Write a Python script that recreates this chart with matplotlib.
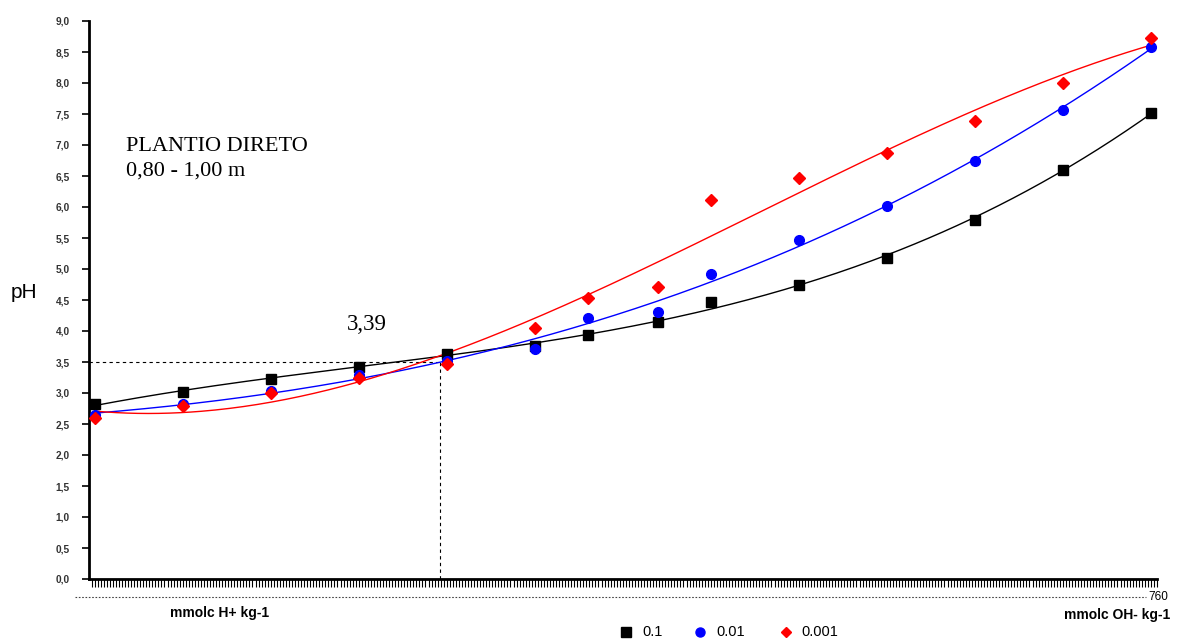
import numpy as np
import matplotlib
matplotlib.use("Agg")
import matplotlib.pyplot as plt
from matplotlib.lines import Line2D

# ---- data ----
x_pos = [-400, -300, -200, -100, 0, 100, 160, 240, 300, 400, 500, 600, 700, 800]
ph_01 = [2.82, 3.02, 3.23, 3.42, 3.63, 3.76, 3.94, 4.15, 4.47, 4.74, 5.18, 5.79, 6.60, 7.52]
ph_001 = [2.65, 2.82, 3.03, 3.29, 3.52, 3.71, 4.21, 4.31, 4.92, 5.47, 6.02, 6.74, 7.56, 8.58]
ph_0001 = [2.60, 2.79, 3.00, 3.24, 3.47, 4.05, 4.53, 4.71, 6.11, 6.47, 6.87, 7.39, 8.00, 8.73]
series_labels = ["0.1", "0.01", "0.001"]
y_ticks = [i * 0.5 for i in range(19)]
y_ticklabels = [f"{v:.1f}".replace(".", ",") for v in y_ticks]
ref_ph = 3.5
ref_x = -8

W, H = 1177, 643
def fx(px): return px / W
def fy(py): return 1 - py / H

fig = plt.figure(figsize=(11.77, 6.43), dpi=100)
ax = fig.add_axes([fx(89), fy(579), (1157-89)/W, (579-21)/H])
xmin, xmax = -407, 807
ax.set_xlim(xmin, xmax)
ax.set_ylim(0, 9)

xs = np.array(x_pos, dtype=float)
xx = np.linspace(xs[0], xs[-1], 300)
styles = [
    (ph_01, "black", "s", 7.5),
    (ph_001, "blue", "o", 7),
    (ph_0001, "red", "D", 5.8),
]
for vals, col, mk, ms in styles:
    coef = np.polyfit(xs, vals, 3)
    ax.plot(xx, np.polyval(coef, xx), color=col, lw=1, zorder=2)
    ax.plot(xs, vals, ls="none", marker=mk, ms=ms, color=col, mec=col, zorder=3)

# reference dashed lines
ax.plot([xmin, ref_x], [ref_ph, ref_ph], ls=(0, (3, 3)), color="black", lw=0.8, zorder=1)
ax.plot([ref_x, ref_x], [0, ref_ph], ls=(0, (3, 3)), color="black", lw=0.8, zorder=1)

for s in ["top", "right"]:
    ax.spines[s].set_visible(False)
ax.spines["left"].set_linewidth(2)
ax.spines["bottom"].set_linewidth(2)

ax.set_yticks(y_ticks)
ax.set_yticklabels(y_ticklabels, fontsize=7.3, fontweight="bold", color="#333333", family="Liberation Sans")
ax.tick_params(axis="y", direction="out", length=5, width=1.2, pad=9)
ax.set_xticks(np.arange(xmin + 3, xmax, 3.45))
ax.set_xticklabels([])
ax.tick_params(axis="x", direction="out", length=6, width=0.8)

fig.text(fx(11), fy(292), "pH", fontsize=15, family="Liberation Sans", va="center")
fig.text(fx(126), fy(147), "PLANTIO DIRETO", fontsize=16, family="Liberation Serif", va="center")
fig.text(fx(126), fy(171), "0,80 - 1,00 m", fontsize=16, family="Liberation Serif", va="center")
fig.text(fx(347), fy(324), "3,39", fontsize=16.5, family="Liberation Serif", va="center")

# dotted line below axis
fig.add_artist(Line2D([fx(75), fx(1146)], [fy(597), fy(597)], ls=(0, (1.5, 1.5)),
                      color="#444444", lw=0.8))
fig.text(fx(1148), fy(597), "760", fontsize=8.5, family="Liberation Sans", va="center")
fig.text(fx(170), fy(613), "mmolc H+ kg-1", fontsize=10, fontweight="bold",
         family="Liberation Sans", va="center")
fig.text(fx(1170), fy(615), "mmolc OH- kg-1", fontsize=10, fontweight="bold",
         family="Liberation Sans", va="center", ha="right")

# legend (manual layout)
leg_marker_px = [626, 700, 786]
leg_text_px = [642, 716, 801]
leg_sizes = [6.5, 6.5, 5.5]
for (vals, col, mk, ms), lab, mpx, tpx, lsz in zip(styles, series_labels, leg_marker_px, leg_text_px, leg_sizes):
    fig.add_artist(Line2D([fx(mpx)], [fy(632)], ls="none", marker=mk, ms=lsz, color=col, mec=col))
    fig.text(fx(tpx), fy(632), lab, fontsize=10.5, family="Liberation Sans", va="center")

fig.savefig("out.png", dpi=100)
